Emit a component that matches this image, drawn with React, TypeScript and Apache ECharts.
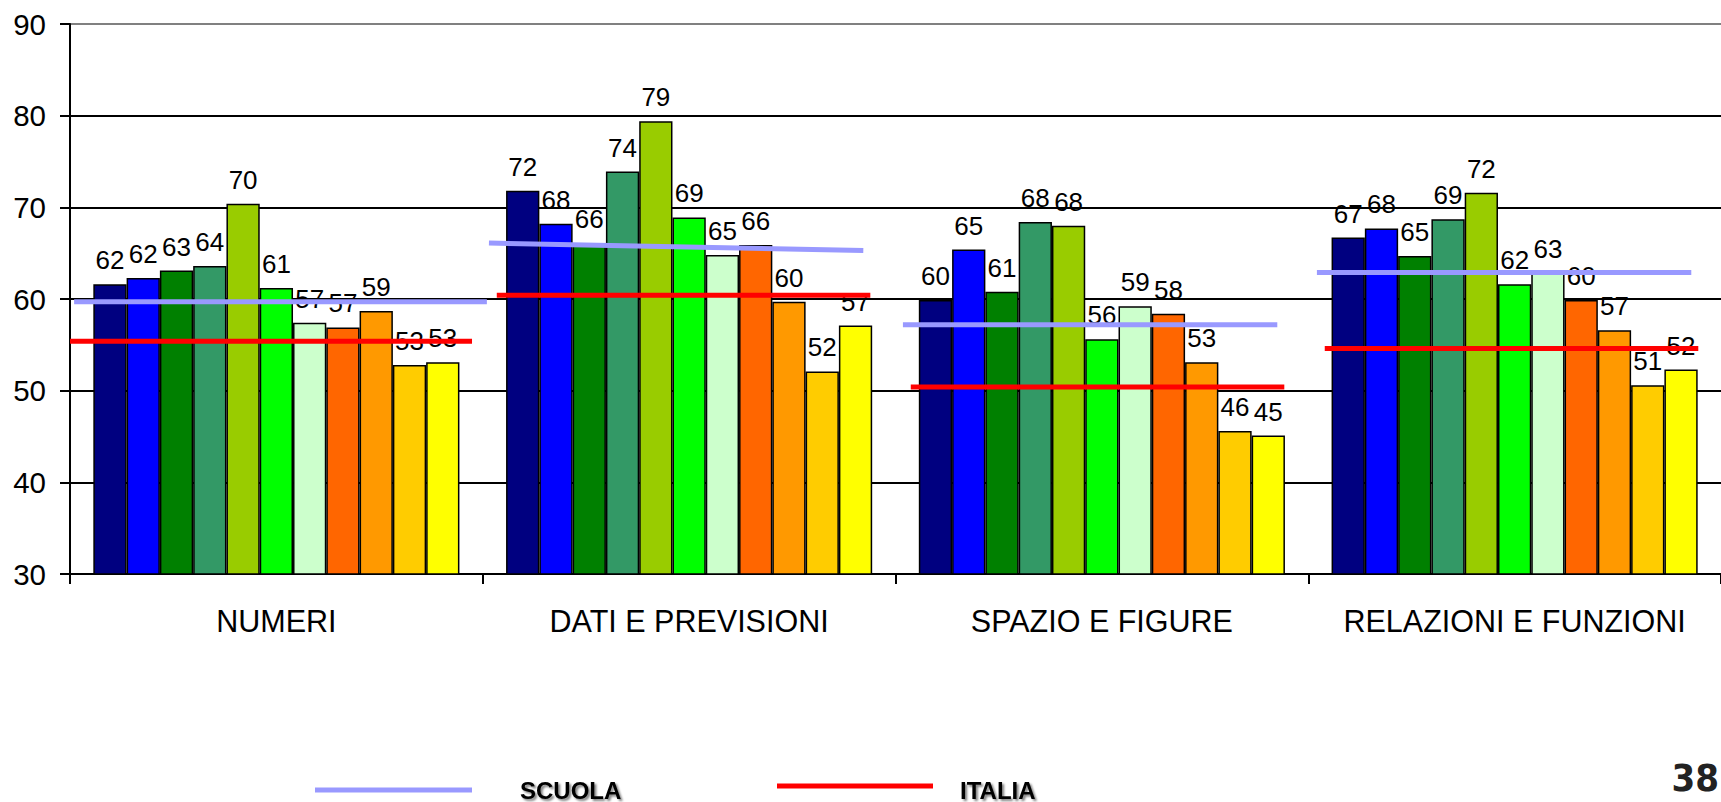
import React, { useEffect, useRef } from "react";
import * as echarts from "echarts";

const categories = ["NUMERI", "DATI E PREVISIONI", "SPAZIO E FIGURE", "RELAZIONI E FUNZIONI"];
const yTicks = [30, 40, 50, 60, 70, 80, 90];

// 11 bars per category, left to right
const numeri = [61.6, 62.3, 63.1, 63.6, 70.4, 61.2, 57.4, 56.9, 58.7, 52.8, 53.1];
const datiPrevisioni = [71.8, 68.2, 66.1, 73.9, 79.4, 68.9, 64.8, 65.9, 59.7, 52.1, 57.1];
const spazioFigure = [59.9, 65.4, 60.8, 68.4, 68.0, 55.6, 59.2, 58.4, 53.1, 45.6, 45.1];
const relazioniFunzioni = [66.7, 67.7, 64.7, 68.7, 71.6, 61.6, 62.8, 59.9, 56.6, 50.6, 52.3];

const barColors = ["#000080", "#0000ff", "#008000", "#339966", "#99cc00", "#00ff00", "#ccffcc", "#ff6600", "#ff9900", "#ffcc00", "#ffff00"];

// reference lines: start / end value per category
const scuolaStart = [59.7, 66.1, 57.2, 62.9];
const scuolaEnd = [59.7, 65.3, 57.2, 62.9];
const italiaStart = [55.4, 60.4, 50.4, 54.6];
const italiaEnd = [55.4, 60.4, 50.4, 54.6];

// horizontal extent of each drawn line (in category units, 0..4)
const scuolaSpan = [[0.01, 1.01], [1.015, 1.922], [2.018, 2.925], [3.021, 3.928]];
const italiaSpan = [[0.0, 0.974], [1.034, 1.939], [2.037, 2.942], [3.04, 3.945]];

const FONT = "'Liberation Sans', Arial, sans-serif";

export default function App() {
  const ref = useRef<HTMLDivElement>(null);
  useEffect(() => {
    if (!ref.current) return;
    const chart = echarts.init(ref.current, undefined, { renderer: "svg" });
    const table = [numeri, datiPrevisioni, spazioFigure, relazioniFunzioni];

    const barSeries = barColors.map((c, i) => ({
      type: "bar",
      name: "Classe " + (i + 1),
      xAxisIndex: 0,
      yAxisIndex: 0,
      barGap: "0%",
      barCategoryGap: "11.3%",
      z: 2,
      data: table.map((row) => row[i]),
      itemStyle: { color: c, borderColor: "#000", borderWidth: 1.5 },
      label: {
        show: true,
        position: "top",
        distance: 11,
        fontSize: 26,
        fontFamily: FONT,
        color: "#000",
        formatter: (p: any) => String(Math.round(p.value)),
      },
    }));

    const lineSeries: any[] = [];
    categories.forEach((_, k) => {
      lineSeries.push({
        type: "line",
        name: "SCUOLA",
        xAxisIndex: 1,
        yAxisIndex: 0,
        z: 5,
        silent: true,
        symbol: "none",
        lineStyle: { color: "#9999ff", width: 5 },
        data: [[scuolaSpan[k][0], scuolaStart[k]], [scuolaSpan[k][1], scuolaEnd[k]]],
      });
      lineSeries.push({
        type: "line",
        name: "ITALIA",
        xAxisIndex: 1,
        yAxisIndex: 0,
        z: 5,
        silent: true,
        symbol: "none",
        lineStyle: { color: "#ff0000", width: 5 },
        data: [[italiaSpan[k][0], italiaStart[k]], [italiaSpan[k][1], italiaEnd[k]]],
      });
    });

    const legendText = (text: string, x: number) => ({
      type: "text",
      left: x,
      top: 778,
      style: {
        text,
        font: "bold 24px " + FONT,
        fill: "#000",
        textShadowColor: "rgba(0,0,0,0.5)",
        textShadowBlur: 2,
        textShadowOffsetX: 2,
        textShadowOffsetY: 2,
      },
    });

    chart.setOption({
      animation: false,
      backgroundColor: "#fff",
      grid: { left: 70, right: -9, top: 24, bottom: 228, containLabel: false },
      xAxis: [
        {
          type: "category",
          data: categories,
          axisLine: { lineStyle: { color: "#000", width: 2 } },
          axisTick: { show: true, interval: 0, length: 10, lineStyle: { color: "#000", width: 2 } },
          axisLabel: { interval: 0, hideOverlap: false, fontSize: 30.5, fontFamily: FONT, color: "#000", margin: 31 },
        },
        { type: "value", min: 0, max: 4, show: false },
      ],
      yAxis: {
        type: "value",
        min: yTicks[0],
        max: yTicks[yTicks.length - 1],
        interval: 10,
        axisLine: { show: true, lineStyle: { color: "#000", width: 2 } },
        axisTick: { show: true, length: 10, lineStyle: { color: "#000", width: 2 } },
        axisLabel: { fontSize: 29.5, fontFamily: FONT, color: "#000", margin: 24 },
        splitLine: {
          show: true,
          lineStyle: { color: ["#000", "#000", "#000", "#000", "#000", "#000", "#808080"], width: 2 },
        },
      },
      series: [...barSeries, ...lineSeries],
      graphic: [
        { type: "line", shape: { x1: 315, y1: 790, x2: 472, y2: 790 }, style: { stroke: "#9999ff", lineWidth: 5 } },
        legendText("SCUOLA", 520),
        { type: "line", shape: { x1: 777, y1: 786, x2: 933, y2: 786 }, style: { stroke: "#ff0000", lineWidth: 5 } },
        legendText("ITALIA", 960),
        {
          type: "text",
          right: 2,
          top: 759,
          style: { text: "38", font: "bold 38px 'Liberation Sans Narrow', 'DejaVu Sans Condensed', sans-serif", fill: "#222" },
        },
      ],
    });
    return () => chart.dispose();
  }, []);
  return <div ref={ref} style={{ position: "fixed", left: 0, top: 0, width: 1721, height: 802 }} />;
}
